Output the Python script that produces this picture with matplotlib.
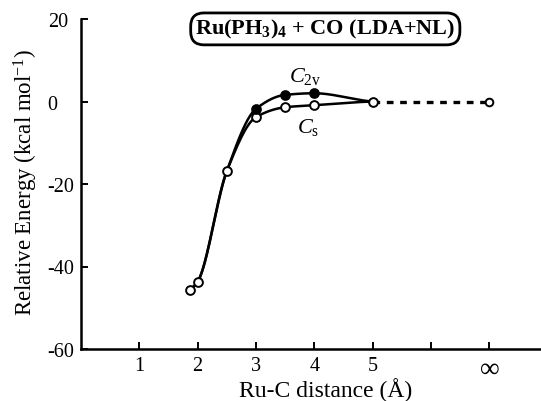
import numpy as np
import matplotlib
matplotlib.use("Agg")
import matplotlib.pyplot as plt

plt.rcParams['font.family'] = ['Liberation Serif', 'DejaVu Serif']
plt.rcParams['mathtext.fontset'] = 'custom'
plt.rcParams['mathtext.rm'] = 'Liberation Serif'
plt.rcParams['mathtext.it'] = 'Liberation Serif:italic'
plt.rcParams['mathtext.bf'] = 'Liberation Serif:bold'
plt.rcParams['axes.unicode_minus'] = False

# Data
dist_cs = [1.87, 2.0, 2.5, 3.0, 3.5, 4.0, 5.0]
energy_cs = [-45.7, -43.7, -16.9, -3.8, -1.4, -0.9, 0.0]
dist_c2v = [1.87, 2.0, 2.5, 3.0, 3.5, 4.0, 5.0]
energy_c2v = [-45.7, -43.7, -16.9, -1.8, 1.6, 2.0, 0.0]
c2v_filled_x = [3.0, 3.5, 4.0]
c2v_filled_y = [-1.8, 1.6, 2.0]
inf_x = [5.0, 7.0]
inf_y = [0.0, 0.0]
xtick_pos = [1, 2, 3, 4, 5, 6, 7]
xtick_labels = ['1', '2', '3', '4', '5', '', r'$\infty$']
ytick_pos = [-60, -40, -20, 0, 20]


def pchip(x, y, xs):
    x = np.asarray(x, float); y = np.asarray(y, float)
    h = np.diff(x); d = np.diff(y) / h
    n = len(x); m = np.zeros(n)
    for k in range(1, n - 1):
        if d[k - 1] * d[k] <= 0:
            m[k] = 0
        else:
            w1 = 2 * h[k] + h[k - 1]; w2 = h[k] + 2 * h[k - 1]
            m[k] = (w1 + w2) / (w1 / d[k - 1] + w2 / d[k])
    m[0] = d[0]; m[-1] = d[-1] * 0.5
    out = np.empty_like(xs)
    for i, xv in enumerate(xs):
        k = min(np.searchsorted(x, xv) - 1, n - 2); k = max(k, 0)
        t = (xv - x[k]) / h[k]
        h00 = 2 * t**3 - 3 * t**2 + 1; h10 = t**3 - 2 * t**2 + t
        h01 = -2 * t**3 + 3 * t**2; h11 = t**3 - t**2
        out[i] = h00 * y[k] + h10 * h[k] * m[k] + h01 * y[k + 1] + h11 * h[k] * m[k + 1]
    return out


fig = plt.figure(figsize=(5.41, 4.02), dpi=100)
ax = fig.add_axes([81 / 541, 52 / 402, 1 - 81 / 541, 330 / 402])
ax.set_xlim(0, 7.89)
ax.set_ylim(-60, 20)

xs = np.linspace(dist_cs[0], dist_cs[-1], 400)
ax.plot(xs, pchip(dist_c2v, energy_c2v, xs), color='black', lw=1.8, zorder=2)
ax.plot(xs, pchip(dist_cs, energy_cs, xs), color='black', lw=1.8, zorder=2)
ax.plot(inf_x, inf_y, color='black', lw=2.4, ls=(0, (2.0, 2.0)), zorder=2)

ax.plot(dist_cs, energy_cs, 'o', ms=6.3, mfc='white', mec='black', mew=1.4, zorder=3)
ax.plot(c2v_filled_x, c2v_filled_y, 'o', ms=6.3, mfc='black', mec='black', mew=1.4, zorder=4)
ax.plot(inf_x[1:], inf_y[1:], 'o', ms=5.5, mfc='white', mec='black', mew=1.4, zorder=3)

for s in ['top', 'right']:
    ax.spines[s].set_visible(False)
for s in ['left', 'bottom']:
    ax.spines[s].set_linewidth(1.8)

ax.set_xticks(xtick_pos)
ax.set_xticklabels(xtick_labels)
ax.set_yticks(ytick_pos)
ax.tick_params(axis='both', direction='in', length=5, width=1.4, labelsize=14.5)
ax.tick_params(axis='x', pad=5)
ax.tick_params(axis='y', pad=24)
for lbl in ax.get_yticklabels():
    lbl.set_horizontalalignment('left')
for lbl in ax.get_xticklabels():
    if lbl.get_text() == r'$\infty$':
        lbl.set_fontsize(20)

ax.text(4.19, -71.4, 'Ru-C distance (Å)', ha='center', va='baseline', fontsize=17, clip_on=False)
fig.text(26 / 541, 1 - 182 / 402, r'Relative Energy (kcal mol$^{\mathregular{-1}}$)',
         rotation=90, ha='center', va='center', fontsize=16.5)

ax.text(4.19, 17.6, r'Ru(PH$_\mathbf{3}$)$_\mathbf{4}$ + CO (LDA+NL)', ha='center', va='center',
        fontsize=16, fontweight='bold',
        bbox=dict(boxstyle='round,pad=0.2,rounding_size=0.6', fc='white', ec='black', lw=2.0))

ax.text(3.85, 6.2, r'$C_{\mathrm{2v}}$', ha='center', va='center', fontsize=16)
ax.text(3.9, -6.0, r'$C_{\mathrm{s}}$', ha='center', va='center', fontsize=16)

fig.savefig('out.png', dpi=100)
